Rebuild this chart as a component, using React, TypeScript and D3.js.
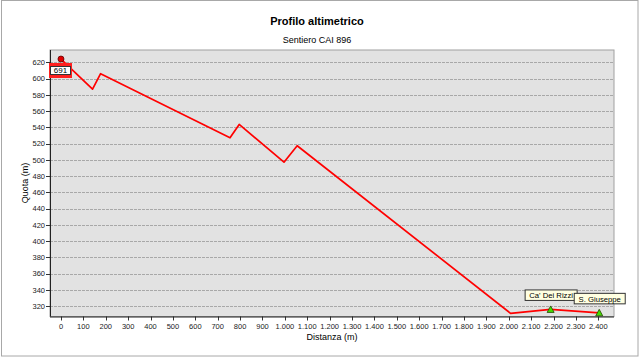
import React from "react";
import * as d3 from "d3";

const distances = [0, 141, 177, 755, 796, 996, 1055, 2008, 2187, 2404];
const elevations = [624, 587, 606, 527, 543.5, 497, 517.3, 311, 315.8, 311.6];

const xTicks = d3.range(0, 2401, 100);
const yTicks = d3.range(320, 621, 20);

const startLabel = { name: "691", d: 0, e: 624 };
const waypoints = [
  { name: "Ca' Dei Rizzi", d: 2187, e: 315.8, w: 52 },
  { name: "S. Giuseppe", d: 2404, e: 311.6, w: 51 },
];

const title = "Profilo altimetrico";
const subtitle = "Sentiero CAI 896";
const xTitle = "Distanza (m)";
const yTitle = "Quota (m)";

const W = 640;
const H = 357;
const M = { left: 50, right: 614, top: 50, bottom: 316.5 };
const FONT = "'Liberation Sans', Arial, sans-serif";

const locale = d3.formatLocale({ decimal: ",", thousands: ".", grouping: [3], currency: ["€", ""] });
const fmt = locale.format(",d");

export default function App() {
  const x = d3.scaleLinear().domain([-49, 2470]).range([M.left, M.right]);
  const y = d3.scaleLinear().domain([307.1, 635.1]).range([M.bottom, M.top]);
  const line = d3
    .line<number>()
    .x((_, i) => x(distances[i]))
    .y((v) => y(v));
  const path = line(elevations) || "";

  return (
    <svg
      width={W}
      height={H}
      style={{ position: "absolute", left: 0, top: 0, display: "block" }}
      fontFamily={FONT}
    >
      <rect x={0} y={0} width={W} height={H} fill="#fff" />
      <rect x={1.5} y={0.5} width={636.5} height={355.5} fill="none" stroke="#a8a8a8" />
      <text x={317} y={25} textAnchor="middle" fontSize={11} fontWeight="bold" fill="#000">
        {title}
      </text>
      <text x={317} y={43} textAnchor="middle" fontSize={9} fill="#000">
        {subtitle}
      </text>

      <rect
        x={M.left}
        y={M.top}
        width={M.right - M.left}
        height={M.bottom - M.top}
        fill="#e2e2e2"
        stroke="#a0a0a0"
      />
      {yTicks.map((t) => (
        <g key={t}>
          <line
            x1={M.left}
            x2={M.right}
            y1={Math.round(y(t)) + 0.5}
            y2={Math.round(y(t)) + 0.5}
            stroke="#a8a8a8"
            strokeDasharray="3,1"
          />
          <line
            x1={M.left - 4}
            x2={M.left}
            y1={Math.round(y(t)) + 0.5}
            y2={Math.round(y(t)) + 0.5}
            stroke="#333"
          />
          <text x={45} y={y(t) + 2.8} textAnchor="end" fontSize={7.5} fill="#222">
            {fmt(t)}
          </text>
        </g>
      ))}
      {xTicks.map((t) => (
        <g key={t}>
          <line
            x1={Math.round(x(t)) + 0.5}
            x2={Math.round(x(t)) + 0.5}
            y1={M.bottom}
            y2={M.bottom + 4}
            stroke="#333"
          />
          <text x={x(t)} y={329} textAnchor="middle" fontSize={7.5} fill="#222">
            {fmt(t)}
          </text>
        </g>
      ))}
      <line x1={M.left + 0.5} x2={M.left + 0.5} y1={M.top} y2={M.bottom} stroke="#222" />
      <line x1={M.left} x2={M.right} y1={M.bottom + 0.5} y2={M.bottom + 0.5} stroke="#222" />

      <text x={332} y={340} textAnchor="middle" fontSize={9} fill="#000">
        {xTitle}
      </text>
      <text
        transform={`translate(28,183) rotate(-90)`}
        textAnchor="middle"
        fontSize={9}
        fill="#000"
      >
        {yTitle}
      </text>

      <path d={path} fill="none" stroke="#ff0000" strokeWidth={1.7} strokeLinejoin="round" />

      <circle
        cx={x(startLabel.d)}
        cy={y(startLabel.e)}
        r={3}
        fill="#e00000"
        stroke="#600000"
        strokeWidth={0.8}
      />
      <g>
        <rect x={49} y={63} width={23} height={15} fill="#ff2020" />
        <rect x={50.5} y={66.5} width={20} height={8} fill="#fff" stroke="#333" />
        <text x={60.5} y={73.2} textAnchor="middle" fontSize={8} fill="#000">
          {startLabel.name}
        </text>
      </g>

      {waypoints.map((p) => {
        const px = x(p.d);
        const py = y(p.e);
        return (
          <g key={p.name}>
            <path
              d={`M${px},${py - 3.5} L${px + 3.5},${py + 3} L${px - 3.5},${py + 3} Z`}
              fill="#44dd00"
              stroke="#224400"
              strokeWidth={0.8}
            />
          </g>
        );
      })}
      {waypoints.map((p) => {
        const px = x(p.d);
        const py = y(p.e);
        return (
          <g key={p.name + "l"}>
            <rect
              x={px - p.w / 2 + 0.5}
              y={py - 19.5}
              width={p.w}
              height={10.5}
              fill="#ffffe1"
              stroke="#333"
            />
            <text x={px + 0.5} y={py - 11.3} textAnchor="middle" fontSize={7.7} fill="#000">
              {p.name}
            </text>
          </g>
        );
      })}
    </svg>
  );
}
